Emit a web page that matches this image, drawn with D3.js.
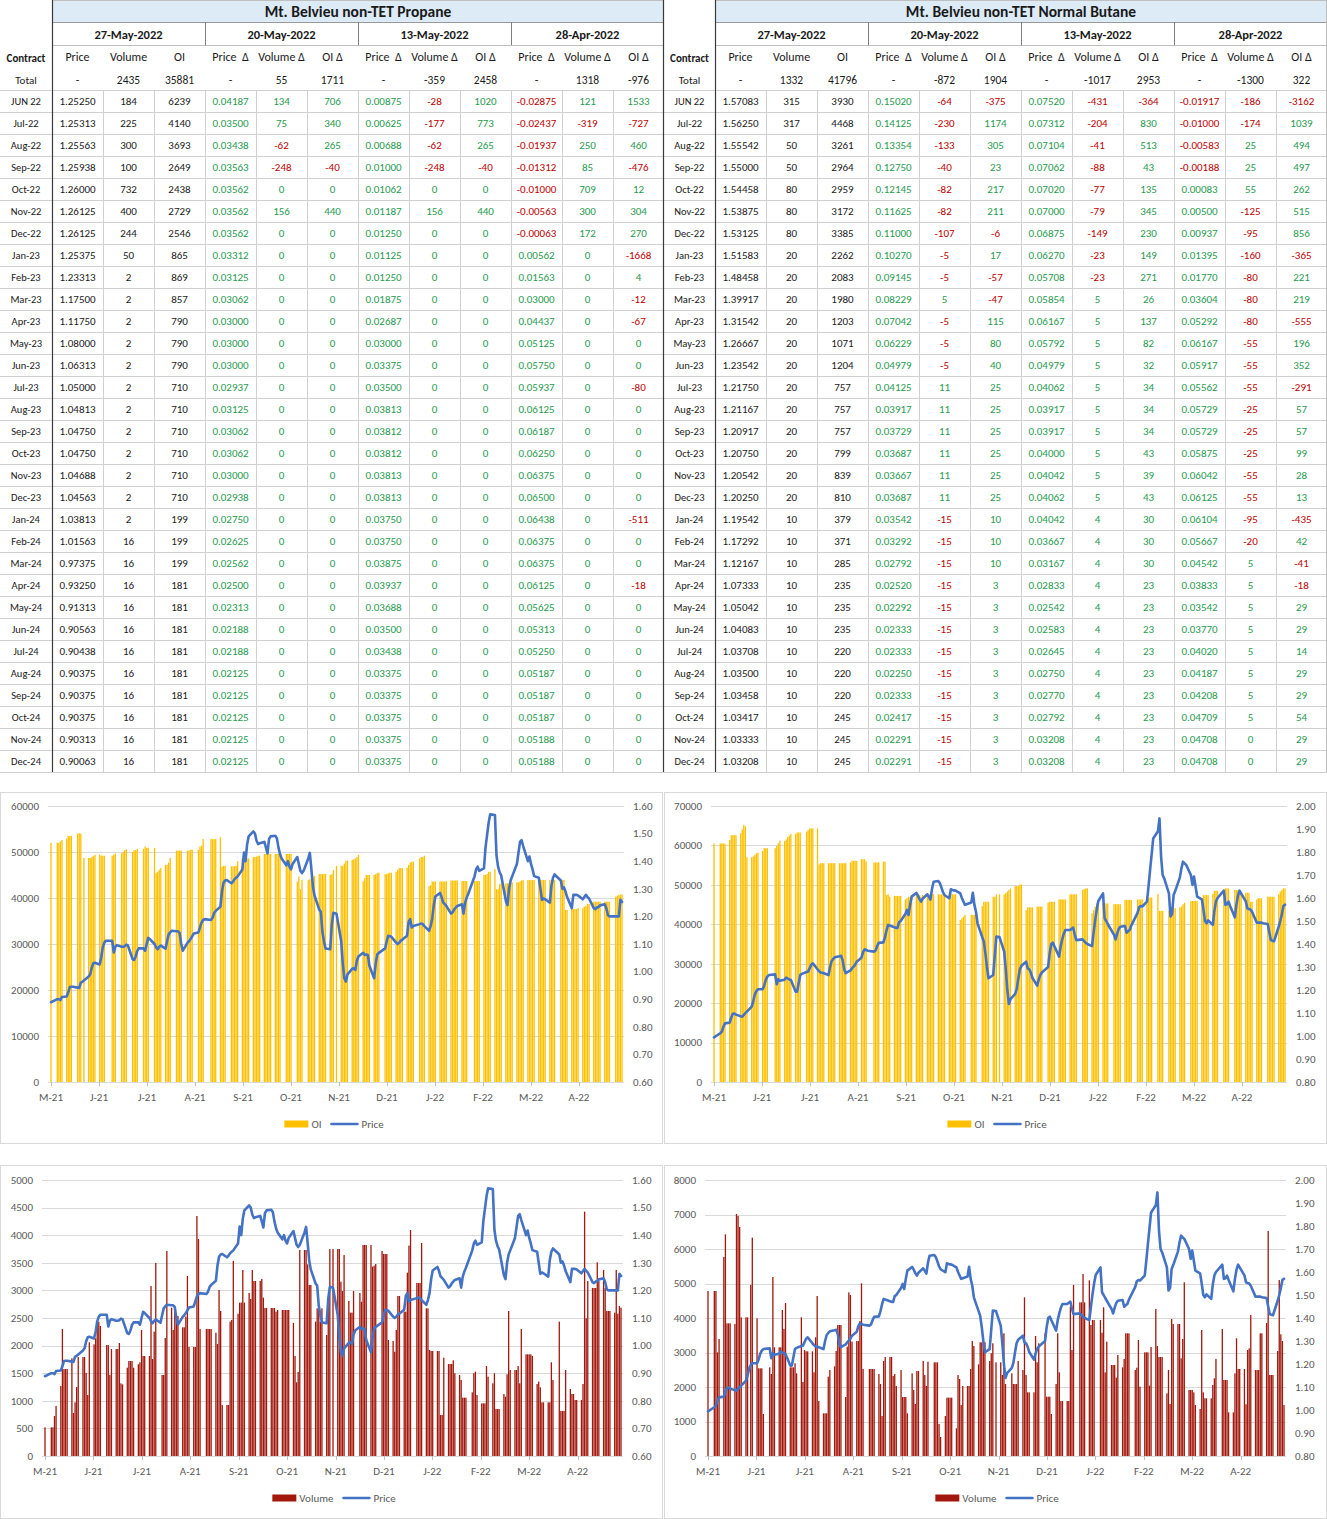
<!DOCTYPE html>
<html><head><meta charset="utf-8">
<script src="https://cdn.jsdelivr.net/npm/d3@7"></script>
<style>
body{margin:0;background:#fff}
svg{display:block}
text{font-family:Carlito,Calibri,Lato,"Liberation Sans",sans-serif}
</style></head>
<body><svg id="c" width="1327" height="1519"></svg>
<script>
// ---------------- TABLE DATA ----------------
const contracts = ["JUN 22","Jul-22","Aug-22","Sep-22","Oct-22","Nov-22","Dec-22","Jan-23","Feb-23","Mar-23","Apr-23","May-23","Jun-23","Jul-23","Aug-23","Sep-23","Oct-23","Nov-23","Dec-23","Jan-24","Feb-24","Mar-24","Apr-24","May-24","Jun-24","Jul-24","Aug-24","Sep-24","Oct-24","Nov-24","Dec-24"];
const reportDates = ["27-May-2022","20-May-2022","13-May-2022","28-Apr-2022"];
const columnHeaders = ["Price","Volume","OI","Price  Δ","Volume Δ","OI Δ","Price  Δ","Volume Δ","OI Δ","Price  Δ","Volume Δ","OI Δ"];

const propaneTitle = "Mt. Belvieu non-TET Propane";
const propaneTotals = [null,2435,35881,null,55,1711,null,-359,2458,null,1318,-976];
const propaneRows = [
[1.25250,184,6239,0.04187,134,706,0.00875,-28,1020,-0.02875,121,1533],
[1.25313,225,4140,0.03500,75,340,0.00625,-177,773,-0.02437,-319,-727],
[1.25563,300,3693,0.03438,-62,265,0.00688,-62,265,-0.01937,250,460],
[1.25938,100,2649,0.03563,-248,-40,0.01000,-248,-40,-0.01312,85,-476],
[1.26000,732,2438,0.03562,0,0,0.01062,0,0,-0.01000,709,12],
[1.26125,400,2729,0.03562,156,440,0.01187,156,440,-0.00563,300,304],
[1.26125,244,2546,0.03562,0,0,0.01250,0,0,-0.00063,172,270],
[1.25375,50,865,0.03312,0,0,0.01125,0,0,0.00562,0,-1668],
[1.23313,2,869,0.03125,0,0,0.01250,0,0,0.01563,0,4],
[1.17500,2,857,0.03062,0,0,0.01875,0,0,0.03000,0,-12],
[1.11750,2,790,0.03000,0,0,0.02687,0,0,0.04437,0,-67],
[1.08000,2,790,0.03000,0,0,0.03000,0,0,0.05125,0,0],
[1.06313,2,790,0.03000,0,0,0.03375,0,0,0.05750,0,0],
[1.05000,2,710,0.02937,0,0,0.03500,0,0,0.05937,0,-80],
[1.04813,2,710,0.03125,0,0,0.03813,0,0,0.06125,0,0],
[1.04750,2,710,0.03062,0,0,0.03812,0,0,0.06187,0,0],
[1.04750,2,710,0.03062,0,0,0.03812,0,0,0.06250,0,0],
[1.04688,2,710,0.03000,0,0,0.03813,0,0,0.06375,0,0],
[1.04563,2,710,0.02938,0,0,0.03813,0,0,0.06500,0,0],
[1.03813,2,199,0.02750,0,0,0.03750,0,0,0.06438,0,-511],
[1.01563,16,199,0.02625,0,0,0.03750,0,0,0.06375,0,0],
[0.97375,16,199,0.02562,0,0,0.03875,0,0,0.06375,0,0],
[0.93250,16,181,0.02500,0,0,0.03937,0,0,0.06125,0,-18],
[0.91313,16,181,0.02313,0,0,0.03688,0,0,0.05625,0,0],
[0.90563,16,181,0.02188,0,0,0.03500,0,0,0.05313,0,0],
[0.90438,16,181,0.02188,0,0,0.03438,0,0,0.05250,0,0],
[0.90375,16,181,0.02125,0,0,0.03375,0,0,0.05187,0,0],
[0.90375,16,181,0.02125,0,0,0.03375,0,0,0.05187,0,0],
[0.90375,16,181,0.02125,0,0,0.03375,0,0,0.05187,0,0],
[0.90313,16,181,0.02125,0,0,0.03375,0,0,0.05188,0,0],
[0.90063,16,181,0.02125,0,0,0.03375,0,0,0.05188,0,0]
];

const butaneTitle = "Mt. Belvieu non-TET Normal Butane";
const butaneTotals = [null,1332,41796,null,-872,1904,null,-1017,2953,null,-1300,322];
const butaneRows = [
[1.57083,315,3930,0.15020,-64,-375,0.07520,-431,-364,-0.01917,-186,-3162],
[1.56250,317,4468,0.14125,-230,1174,0.07312,-204,830,-0.01000,-174,1039],
[1.55542,50,3261,0.13354,-133,305,0.07104,-41,513,-0.00583,25,494],
[1.55000,50,2964,0.12750,-40,23,0.07062,-88,43,-0.00188,25,497],
[1.54458,80,2959,0.12145,-82,217,0.07020,-77,135,0.00083,55,262],
[1.53875,80,3172,0.11625,-82,211,0.07000,-79,345,0.00500,-125,515],
[1.53125,80,3385,0.11000,-107,-6,0.06875,-149,230,0.00937,-95,856],
[1.51583,20,2262,0.10270,-5,17,0.06270,-23,149,0.01395,-160,-365],
[1.48458,20,2083,0.09145,-5,-57,0.05708,-23,271,0.01770,-80,221],
[1.39917,20,1980,0.08229,5,-47,0.05854,5,26,0.03604,-80,219],
[1.31542,20,1203,0.07042,-5,115,0.06167,5,137,0.05292,-80,-555],
[1.26667,20,1071,0.06229,-5,80,0.05792,5,82,0.06167,-55,196],
[1.23542,20,1204,0.04979,-5,40,0.04979,5,32,0.05917,-55,352],
[1.21750,20,757,0.04125,11,25,0.04062,5,34,0.05562,-55,-291],
[1.21167,20,757,0.03917,11,25,0.03917,5,34,0.05729,-25,57],
[1.20917,20,757,0.03729,11,25,0.03917,5,34,0.05729,-25,57],
[1.20750,20,799,0.03687,11,25,0.04000,5,43,0.05875,-25,99],
[1.20542,20,839,0.03667,11,25,0.04042,5,39,0.06042,-55,28],
[1.20250,20,810,0.03687,11,25,0.04062,5,43,0.06125,-55,13],
[1.19542,10,379,0.03542,-15,10,0.04042,4,30,0.06104,-95,-435],
[1.17292,10,371,0.03292,-15,10,0.03667,4,30,0.05667,-20,42],
[1.12167,10,285,0.02792,-15,10,0.03167,4,30,0.04542,5,-41],
[1.07333,10,235,0.02520,-15,3,0.02833,4,23,0.03833,5,-18],
[1.05042,10,235,0.02292,-15,3,0.02542,4,23,0.03542,5,29],
[1.04083,10,235,0.02333,-15,3,0.02583,4,23,0.03770,5,29],
[1.03708,10,220,0.02333,-15,3,0.02645,4,23,0.04020,5,14],
[1.03500,10,220,0.02250,-15,3,0.02750,4,23,0.04187,5,29],
[1.03458,10,220,0.02333,-15,3,0.02770,4,23,0.04208,5,29],
[1.03417,10,245,0.02417,-15,3,0.02792,4,23,0.04709,5,54],
[1.03333,10,245,0.02291,-15,3,0.03208,4,23,0.04708,0,29],
[1.03208,10,245,0.02291,-15,3,0.03208,4,23,0.04708,0,29]
];

// ---------------- CHART DATA (one value per weekday, 28-May-2021 .. 27-May-2022; null = no trade) ----------------
const firstTradeDate = "2021-05-28", lastTradeDate = "2022-05-27";
const xTickLabels = ["M-21","J-21","J-21","A-21","S-21","O-21","N-21","D-21","J-22","F-22","M-22","A-22"];
const xTickStepDays = 30.6;

const propanePrice = [0.889,
null,0.900,0.900,0.897,0.908, 0.910,0.925,0.944,0.945,0.945, 0.942,0.941,0.960,0.963,0.968, 0.982,0.990,1.015,1.030,1.032,
1.026,1.050,1.088,1.105,1.112, null,1.112,1.069,1.090,1.096, 1.090,1.090,1.092,1.098,1.095, 1.045,1.042,1.055,1.075,1.084,
1.084,1.076,1.100,1.122,1.118, 1.100,1.088,1.081,1.090,1.094, 1.083,1.110,1.135,1.142,1.148, 1.146,1.146,1.140,1.100,1.076,
1.104,1.110,1.118,1.128,1.138, 1.142,1.160,1.178,1.187,1.190, null,1.187,1.195,1.212,1.220, 1.235,1.290,1.322,1.330,1.332,
1.320,1.326,1.335,1.340,1.345, 1.370,1.431,1.400,1.460,1.490, 1.508,1.500,1.475,1.462,1.465, 1.470,1.450,1.428,1.480,1.490,
1.492,1.483,1.450,1.425,1.410, 1.385,1.400,1.380,1.370,1.390, 1.415,1.390,1.365,1.357,1.365, 1.410,1.430,1.370,1.307,1.275,
1.225,1.217,1.145,1.110,1.084, 1.081,1.170,1.213,null,1.210, 1.110,1.030,0.975,0.964,0.990, 1.010,1.012,1.006,1.040,1.055,
1.068,1.060,1.062,1.060,1.020, 0.976,1.030,1.062,1.068,null, 1.084,1.110,1.130,1.128,1.126, 1.105,1.100,1.105,1.112,1.116,
1.130,1.180,1.190,1.160,1.165, null,1.172,1.174,1.172,1.165, 1.148,1.165,1.190,1.240,1.272, 1.285,1.270,1.250,1.245,1.238,
1.210,1.215,1.225,1.232,1.238, 1.244,1.210,1.250,1.268,1.282, null,1.345,1.370,1.380,1.365, 1.374,1.450,1.495,1.540,1.570,
1.567,1.420,1.380,1.360,1.348, 1.255,1.241,1.300,1.330,1.345, 1.390,1.430,1.470,1.476,1.455, 1.400,1.417,1.390,1.370,1.346,
1.340,1.300,1.260,1.265,1.262, 1.250,1.310,1.340,1.352,null, 1.330,1.300,1.305,1.290,1.270, 1.230,1.278,1.278,1.278,1.276,
1.262,1.270,1.278,1.270,1.265, 1.230,1.226,1.232,1.234,1.240, 1.244,1.230,1.205,1.200,1.200, 1.200,1.200,1.200,1.260,1.2525];

const propaneOI = [52000,
null,52000,52000,52300,52600, 52900,53500,53500,53500,null, 54000,54100,54000,null,48700, 48700,48700,48900,49100,49400,
49400,49200,49200,49200,null, null,49200,49400,49700,null, 49700,50000,50400,50600,null, 50000,50400,50400,50700,null,
50700,51200,50900,50900,null, 50900,45400,45700,46100,46500, 47200,47200,47700,48700,null, 50300,50300,50300,50300,null,
50300,50300,50500,50500,null, 50500,51200,51400,52800,null, null,52800,52800,52800,52800, 53200,46800,47000,47000,null,
46900,46900,46900,47000,48000, 48600,48600,48600,48600,48600, 48900,48900,49000,49200,49200, 49600,49600,49600,49600,49600,
49600,49600,49600,49600,null, 49600,49600,49600,49600,null, 43600,44700,41900,43900,null, 43900,44100,44700,44500,44800,
45200,45200,45200,45200,45200, 45000,45200,46100,null,47000, 47000,47000,47500,48100,48100, 48300,48400,48600,48900,49400,
43600,44300,45000,45000,45000, 45000,45200,45400,45500,null, 45200,45200,45400,45500,45500, 45700,46100,46500,46500,46500,
46600,47200,47700,47900,47900, null,48600,48900,48900,49200, 42600,42800,43600,43600,43600, 43600,43600,43600,43600,43700,
43800,43800,43800,43800,43800, 43700,43700,43700,43700,null, null,43700,43700,43700,43700, 45000,45000,45200,45700,45700,
46300,41900,41900,43000,43200, 43200,43200,43200,43400,43400, 43400,43400,43600,43800,43900, 43900,43900,43900,43900,43900,
43900,43900,43900,43900,43900, 43900,43900,43900,43900,null, 43900,43900,43900,37400,37400, 37600,37600,37600,37600,37800,
37800,38100,38300,38700,38700, 39200,39200,39200,39200,39200, 39200,39200,39200,39200,null, 40300,40500,40700,40700,40800];

const propaneVolume = [519,
null,519,519,725,906, 1268,2301,1576,1576,1576, 1769,779,972,1250,1793, 1793,1793,1504,1105,2059,
2023,2132,2434,2434,2355, null,2011,2011,1467,1938, 1938,1938,2047,1316,1298, 1600,1721,1721,1721,1600,
1661,1697,2283,1812,1812, 1812,3080,1757,2253,3497, null,1467,1467,2138,3714, 2687,2283,2687,2536,2536,
2331,2331,2524,3261,1975, 1975,1975,4348,3931,2301, null,2301,2301,2301,2301, 2234,2029,3007,2627,924,
924,924,2434,2464,3533, 2579,2778,2778,3370,2778, 2953,2844,3370,3170,3170, 3170,3207,2869,2681,2681,
2681,2681,2681,2615,2645, 2645,2645,2645,2645,2645, 2410,1812,1335,1522,3732, 3732,3732,3472,3098,3098,
2434,2675,2675,2434,2675, 2192,2736,3750,null,3750, 3750,3750,3158,2989,3641, 2808,2597,2597,2989,null,
2953,2796,3823,3823,3823, 3823,3430,3448,3478,null, 3714,3660,3660,3660,2102, 2083,1890,2283,2899,2899,
2615,2615,3321,3811,4094, null,3134,3134,3134,3859, 2675,2675,1920,1902,1902, 1902,1902,743,743,1781,
1667,1667,1667,1733,1498, 1467,1377,1057,1057,1057, null,1153,1498,1528,1105, 954,954,954,1630,1437,
1317,1498,851,851,851, 1123,1075,1480,2627,1558, 1558,1558,1630,1317,2301, 1842,1842,1842,1842,1812,
1304,1347,1244,972,972, 972,972,1697,1377,null, 2434,815,815,815,1558, 1214,1123,1123,1015,1015,
1015,1304,4427,2494,3170, 3044,3044,3044,3509,3170, 3370,3044,2627,2627,2627, 2597,3370,2579,2718,2687];

const butanePrice = [0.994,
null,1.012,1.019,1.040,1.055, 1.058,1.080,1.097,1.098,1.093, 1.086,1.084,1.092,1.100,1.106, 1.128,1.150,1.180,1.195,1.203,
1.203,1.220,1.244,1.258,1.265, null,1.268,1.225,1.247,1.240, 1.245,1.254,1.250,1.246,1.244, 1.193,1.193,1.230,1.265,1.270,
1.278,1.280,1.295,1.310,1.316, 1.290,1.282,1.276,1.275,1.273, 1.265,1.300,1.326,1.335,1.342, 1.347,1.349,1.330,1.290,1.273,
1.285,1.295,1.302,1.310,1.323, 1.340,1.365,1.377,1.374,1.371, null,1.367,1.372,1.390,1.405, 1.407,1.430,1.460,1.483,1.480,
1.473,1.470,1.470,1.495,1.500, 1.530,1.548,1.526,1.570,1.606, 1.622,1.610,1.595,1.584,1.597, 1.616,1.605,1.593,1.640,1.671,
1.674,1.664,1.645,1.625,1.612, 1.599,1.638,1.635,1.633,1.632, 1.620,1.600,1.585,1.570,1.573, 1.580,1.623,1.570,1.540,1.490,
1.430,1.410,1.360,1.300,1.251, 1.265,1.350,1.432,null,1.430, 1.367,1.290,1.200,1.139,1.160, 1.183,1.205,1.250,1.290,1.305,
1.323,1.294,1.290,1.275,1.252, 1.219,1.245,1.265,1.276,null, 1.300,1.360,1.400,1.406,1.390, 1.345,1.390,1.420,1.445,1.461,
1.461,1.466,1.471,1.440,1.417, null,1.420,1.412,1.405,1.400, 1.391,1.450,1.504,1.550,1.587, 1.620,1.512,1.500,1.487,1.475,
1.440,1.420,1.445,1.465,1.475, 1.478,1.449,1.455,1.461,1.480, null,1.535,1.560,1.565,1.563, 1.584,1.650,1.722,1.790,1.859,
1.890,1.946,1.780,1.700,1.685, 1.620,1.520,1.530,1.613,1.630, 1.690,1.730,1.758,1.750,1.744, 1.700,1.657,1.693,1.650,1.606,
1.594,1.550,1.500,1.490,1.503, 1.483,1.545,1.585,1.600,null, 1.632,1.570,1.573,1.584,1.565, 1.516,1.570,1.610,1.632,1.620,
1.585,1.555,1.552,1.550,1.540, 1.493,1.493,1.493,1.493,1.490, 1.487,1.450,1.417,1.414,1.412, 1.475,1.500,1.530,1.565,1.5708];

const butaneOI = [60500,
null,60500,60500,60500,60400, 61400,62600,62600,62600,62600, 63100,64100,65200,64800,57000, 57000,57200,57600,58000,58200,
58600,59300,59300,59300,null, null,59300,59900,60500,61200, 61100,61500,62100,62500,62900, 62900,63300,63300,63300,null,
63500,63900,64300,64300,64300, 64300,55200,55500,55500,55500, 55500,55500,55500,55500,55500, 55500,55500,55500,55500,55500,
55700,56100,56100,56100,56100, 56500,56500,56500,55900,null, null,55700,55700,55700,55700, 55900,55900,47400,47600,47000,
47200,47200,47200,47200,47200, 46300,46600,47000,47000,47400, 47400,47400,47400,47000,47400, 47600,47600,47600,47600,47600,
47600,47600,47600,47600,47600, 47600,47600,47600,47600,47600, 41100,41500,41900,42400,null, 42400,42400,42400,42400,null,
44600,45700,45700,45700,45700, 47000,47000,47600,null,47600, 47600,47900,48300,48700,49100, 49700,49700,49700,50100,50100,
43600,44300,44300,44300,44300, 44500,44500,44500,44500,null, 45500,45700,45700,45700,45700, 46300,46300,46300,46300,46300,
47600,47600,47600,47600,47600, null,48700,48900,49100,49100, 42800,43600,44500,45300,45300, 45300,45300,45300,45300,null,
45100,45100,45100,45100,45100, 46200,46200,46200,46200,46200, null,46300,46300,46300,46300, 46600,46600,46800,46800,null,
47700,43400,43400,43400,null, 43400,43400,43600,44100,44100, 44300,44500,45100,45500,null, 45900,45900,45900,45900,45900,
46300,47400,47400,47400,47400, 47700,48500,48500,48500,null, 48500,49100,49100,49100,null, 48700,48700,48700,48700,48000,
48000,48000,48000,45700,45700, 46300,46600,46600,46600,null, 47000,47000,47000,47000,47000, 47600,48300,48700,49100,49100];

const butaneVolume = [4783,
null,4783,4783,3005,3391, 5768,6425,3845,3845,3845, 3826,7015,6957,6638,4019, 4019,4019,null,4957,6329,
3990,2541,2541,2541,1217, null,2570,2377,5188,3150, 3150,3150,4232,3681,4435, 2570,2570,2570,2686,2396,
4019,2145,3072,3034,3034, 3034,2425,3440,4638,1594, 1237,1237,1237,2300,2493, 2599,3044,3797,3797,3797,
1710,3169,4744,4667,3314, 3333,3333,3913,5005,2522, null,2522,2522,2522,2522, 2377,2087,1159,2754,2870,
2870,2870,2319,2377,2029, 2493,1710,1710,1710,1237, 2396,1913,1507,2464,2464, 2754,2348,2029,2734,null,
2715,2715,2715,928,551, 1159,1691,1691,1691,1691, 802,2348,2232,1478,2029, 2029,2029,2522,3333,3188,
2657,3295,3295,3295,3295, 2754,2976,3266,null,2715, 2715,2348,3556,2087,null, 2396,2087,2087,2087,2754,
2493,4599,2348,1845,1845, 1845,3478,2715,3266,null, 3556,1720,1720,1720,1217, 2087,3556,2425,1594,1594,
1594,1594,4329,3072,4957, null,4454,4454,5275,4454, 5092,3797,3942,3942,null, 3942,3575,4309,2425,3314,
2638,2638,2638,2271,2928, 2570,2812,3556,3556,3556, null,2493,2560,3362,2010, 3005,3005,3005,2039,3159,
4261,3188,2870,2870,2870, 1816,2493,1507,3971,3826, 3826,3826,2831,3391,5034, 1913,1913,1913,1845,1478,
1362,3652,1845,1672,1672, 1672,2058,2251,2812,null, 3681,2203,2203,2203,1266, 1266,2396,3411,2522,2522,
2522,1498,3072,3121,4087, 2493,2493,2493,3556,3556, 3855,6522,2348,2348,2348, 3044,5101,3527,3333,1478];

// ---------------- DRAWING ----------------
const svg = d3.select("#c");
const GREEN = "#1f9b50", RED = "#c00000", AXIS_TXT = "#595959", GRID = "#d9d9d9";

function drawTable(ox, contractW, title, totals, rows){
  const g = svg.append("g").attr("transform", `translate(${ox},0)`);
  const colW = 51, nC = 12, W = contractW + colW*nC;
  const cx = i => contractW + colW*i + colW/2;
  const rowTop = k => 90 + 22*k;
  // title band
  g.append("rect").attr("x", contractW).attr("y", 0).attr("width", colW*nC).attr("height", 22).attr("fill", "#DDEBF7");
  g.append("line").attr("x1", contractW).attr("x2", W).attr("y1", 0.5).attr("y2", 0.5).attr("stroke", "#bfbfbf");
  g.append("line").attr("x1", contractW).attr("x2", W).attr("y1", 22.5).attr("y2", 22.5).attr("stroke", "#9a9a9a");
  g.append("text").attr("x", contractW + colW*nC/2).attr("y", 12).attr("dy", "0.35em").attr("text-anchor", "middle")
    .attr("font-size", 15.5).attr("font-weight", "bold").attr("fill", "#1a1a1a").text(title);
  // date row
  reportDates.forEach((d, i) => {
    g.append("text").attr("x", contractW + colW*(3*i + 1.5)).attr("y", 35).attr("dy", "0.35em").attr("text-anchor", "middle")
      .attr("font-size", 12.5).attr("font-weight", "bold").attr("fill", "#1a1a1a").text(d);
  });
  [3, 6, 9].forEach(i => {
    g.append("line").attr("x1", contractW + colW*i + 0.5).attr("x2", contractW + colW*i + 0.5).attr("y1", 22).attr("y2", 45).attr("stroke", "#7f7f7f");
  });
  g.append("line").attr("x1", contractW).attr("x2", W).attr("y1", 45.5).attr("y2", 45.5).attr("stroke", "#bfbfbf");
  // header row
  g.append("text").attr("x", contractW/2).attr("y", 58).attr("dy", "0.35em").attr("text-anchor", "middle")
    .attr("font-size", 11).attr("font-weight", "bold").attr("fill", "#1a1a1a").text("Contract");
  columnHeaders.forEach((h, i) => {
    g.append("text").attr("x", cx(i)).attr("y", 57).attr("dy", "0.35em").attr("text-anchor", "middle")
      .attr("font-size", 12).attr("fill", "#1a1a1a").attr("xml:space", "preserve").text(h);
  });
  // total row
  g.append("text").attr("x", contractW/2).attr("y", 80).attr("dy", "0.35em").attr("text-anchor", "middle")
    .attr("font-size", 11).attr("fill", "#1a1a1a").text("Total");
  totals.forEach((v, i) => {
    g.append("text").attr("x", cx(i)).attr("y", 80).attr("dy", "0.35em").attr("text-anchor", "middle")
      .attr("font-size", 11.5).attr("fill", "#1a1a1a").text(v === null ? "-" : String(v));
  });
  // grid of data rows
  for (let k = 0; k <= rows.length; k++) {
    g.append("line").attr("x1", 0).attr("x2", W).attr("y1", rowTop(k) + 0.5).attr("y2", rowTop(k) + 0.5).attr("stroke", "#d0d0d0");
  }
  for (let i = 1; i < nC; i++) {
    g.append("line").attr("x1", contractW + colW*i + 0.5).attr("x2", contractW + colW*i + 0.5)
      .attr("y1", rowTop(0)).attr("y2", rowTop(rows.length)).attr("stroke", "#d0d0d0");
  }
  rows.forEach((r, k) => {
    const y = rowTop(k) + 11;
    g.append("text").attr("x", contractW/2).attr("y", y).attr("dy", "0.35em").attr("text-anchor", "middle")
      .attr("font-size", 10.5).attr("fill", "#1a1a1a").text(contracts[k]);
    r.forEach((v, i) => {
      const txt = (i % 3 === 0) ? v.toFixed(5) : String(v);
      const col = i < 3 ? "#1a1a1a" : (v < 0 ? RED : GREEN);
      g.append("text").attr("x", cx(i)).attr("y", y).attr("dy", "0.35em").attr("text-anchor", "middle")
        .attr("font-size", 11).attr("fill", col).text(txt);
    });
  });
  // strong verticals
  g.append("line").attr("x1", contractW + 0.5).attr("x2", contractW + 0.5).attr("y1", 0).attr("y2", rowTop(rows.length)).attr("stroke", "#3a3a3a").attr("stroke-width", 1.2);
  return g;
}

drawTable(0, 52, propaneTitle, propaneTotals, propaneRows);
drawTable(664, 51, butaneTitle, butaneTotals, butaneRows);
svg.append("line").attr("x1", 663.5).attr("x2", 663.5).attr("y1", 0).attr("y2", 772).attr("stroke", "#3a3a3a").attr("stroke-width", 1.2);
svg.append("line").attr("x1", 1326.5).attr("x2", 1326.5).attr("y1", 0).attr("y2", 772).attr("stroke", "#bfbfbf");

// -------- charts --------
const parseD = d3.timeParse("%Y-%m-%d");
const startD = parseD(firstTradeDate), endD = parseD(lastTradeDate);
const tradeDays = d3.timeDays(startD, d3.timeDay.offset(endD, 1)).filter(d => d.getDay() !== 0 && d.getDay() !== 6);

function drawChart(cfg){
  const g = svg.append("g");
  g.append("rect").attr("x", cfg.box[0] + 0.5).attr("y", cfg.box[1] + 0.5).attr("width", cfg.box[2]).attr("height", cfg.box[3])
    .attr("fill", "#fff").attr("stroke", GRID);
  const x = d3.scaleTime().domain([startD, endD]).range([cfg.x0, cfg.x1]);
  const yL = d3.scaleLinear().domain([0, cfg.lmax]).range([cfg.yb, cfg.yt]);
  const yR = d3.scaleLinear().domain([cfg.rmin, cfg.rmax]).range([cfg.yb, cfg.yt]);
  const lt = d3.range(0, cfg.lmax + 1e-6, cfg.lstep);
  g.selectAll(".gl").data(lt).join("line")
    .attr("x1", cfg.x0 - 3).attr("x2", cfg.x1 + 2)
    .attr("y1", d => Math.round(yL(d)) + 0.5).attr("y2", d => Math.round(yL(d)) + 0.5)
    .attr("stroke", GRID).attr("stroke-width", 1);
  g.selectAll(".ll").data(lt).join("text")
    .attr("x", cfg.x0 - 12).attr("y", d => yL(d)).attr("dy", "0.35em").attr("text-anchor", "end")
    .attr("font-size", 11).attr("fill", AXIS_TXT).text(d => String(d));
  const nR = Math.round((cfg.rmax - cfg.rmin) / cfg.rstep);
  const rt = d3.range(0, nR + 1).map(i => cfg.rmin + i * cfg.rstep);
  g.selectAll(".rl").data(rt).join("text")
    .attr("x", cfg.x1 + 11).attr("y", d => yR(d)).attr("dy", "0.35em").attr("text-anchor", "start")
    .attr("font-size", 11).attr("fill", AXIS_TXT).text(d => d.toFixed(2));
  const tickDates = xTickLabels.map((l, i) => new Date(startD.getTime() + i * xTickStepDays * 864e5));
  g.selectAll(".xt").data(tickDates).join("line")
    .attr("x1", d => Math.round(x(d)) + 0.5).attr("x2", d => Math.round(x(d)) + 0.5)
    .attr("y1", cfg.yb).attr("y2", cfg.yb + 4).attr("stroke", "#bfbfbf");
  g.selectAll(".xl").data(tickDates).join("text")
    .attr("x", d => x(d)).attr("y", cfg.yb + 19).attr("text-anchor", "middle")
    .attr("font-size", 11).attr("fill", AXIS_TXT).text((d, i) => xTickLabels[i]);
  const barData = tradeDays.map((d, i) => ({d, v: cfg.bars[i]})).filter(o => o.v !== null && o.v !== undefined);
  const bw = 1.3;
  g.selectAll(".bar").data(barData).join("rect")
    .attr("x", o => x(o.d) - bw/2).attr("width", bw)
    .attr("y", o => yL(o.v)).attr("height", o => cfg.yb - yL(o.v))
    .attr("fill", cfg.barColor);
  const lineData = tradeDays.map((d, i) => ({d, v: cfg.price[i]})).filter(o => o.v !== null && o.v !== undefined);
  g.append("path").datum(lineData)
    .attr("d", d3.line().x(o => x(o.d)).y(o => yR(o.v)))
    .attr("fill", "none").attr("stroke", "#4472C4").attr("stroke-width", 2.6)
    .attr("stroke-linejoin", "round").attr("stroke-linecap", "round");
  const lg = g.append("g");
  let cx = 0;
  lg.append("rect").attr("x", cx).attr("y", -3.5).attr("width", 24).attr("height", 7).attr("fill", cfg.barColor);
  cx += 27;
  const t1 = lg.append("text").attr("x", cx).attr("y", 0).attr("dy", "0.35em").attr("font-size", 11).attr("fill", AXIS_TXT).text(cfg.barName);
  cx += t1.node().getComputedTextLength() + 10;
  lg.append("line").attr("x1", cx).attr("x2", cx + 26).attr("y1", 0).attr("y2", 0).attr("stroke", "#4472C4").attr("stroke-width", 2.6).attr("stroke-linecap", "round");
  cx += 30;
  const t2 = lg.append("text").attr("x", cx).attr("y", 0).attr("dy", "0.35em").attr("font-size", 11).attr("fill", AXIS_TXT).text("Price");
  cx += t2.node().getComputedTextLength();
  lg.attr("transform", `translate(${cfg.legendCx - cx/2},${cfg.legendY})`);
}

drawChart({box:[0,792,662,351], x0:51, x1:622, yt:806, yb:1082, lmax:60000, lstep:10000, rmin:0.6, rmax:1.6, rstep:0.1,
  bars:propaneOI, price:propanePrice, barColor:"#FFC000", barName:"OI", legendCx:334, legendY:1124});
drawChart({box:[664,792,662,351], x0:714, x1:1285, yt:806, yb:1082, lmax:70000, lstep:10000, rmin:0.8, rmax:2.0, rstep:0.1,
  bars:butaneOI, price:butanePrice, barColor:"#FFC000", barName:"OI", legendCx:997, legendY:1124});
drawChart({box:[0,1165,662,353], x0:45, x1:621, yt:1180, yb:1456, lmax:5000, lstep:500, rmin:0.6, rmax:1.6, rstep:0.1,
  bars:propaneVolume, price:propanePrice, barColor:"#A2180C", barName:"Volume", legendCx:334, legendY:1498});
drawChart({box:[664,1165,662,353], x0:708, x1:1284, yt:1180, yb:1456, lmax:8000, lstep:1000, rmin:0.8, rmax:2.0, rstep:0.1,
  bars:butaneVolume, price:butanePrice, barColor:"#A2180C", barName:"Volume", legendCx:997, legendY:1498});
</script>
</body></html>
